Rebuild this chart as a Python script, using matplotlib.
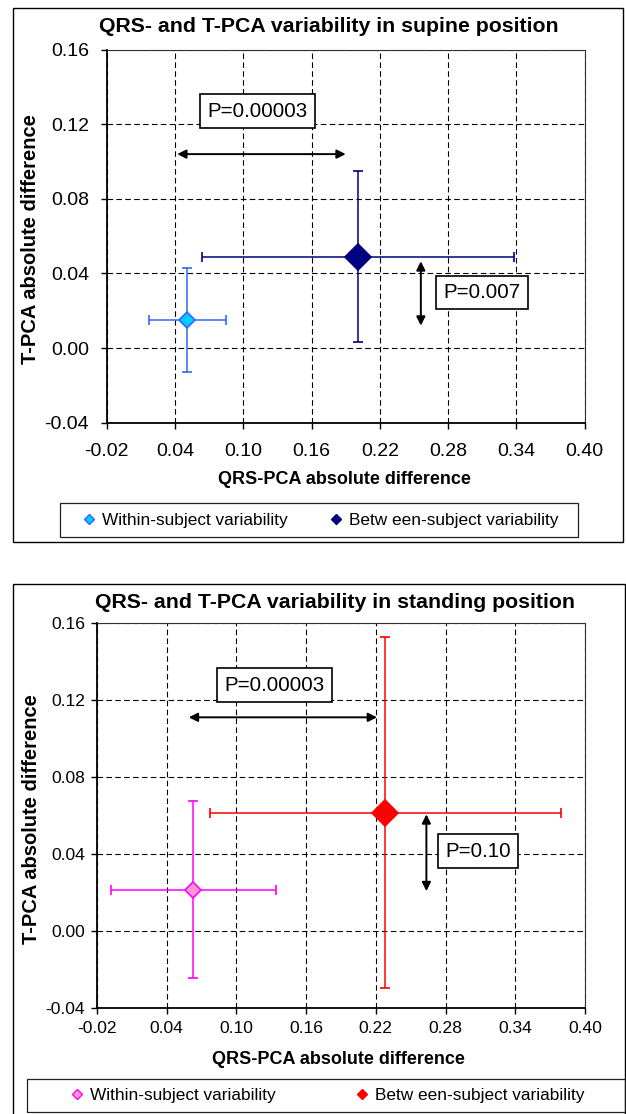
import matplotlib
matplotlib.use('Agg')
import matplotlib.pyplot as plt
from matplotlib.lines import Line2D
from matplotlib.patches import Rectangle

plt.rcParams['font.family'] = ['Liberation Sans', 'DejaVu Sans']

W, H = 626, 1114

x_ticks = [-0.02, 0.04, 0.10, 0.16, 0.22, 0.28, 0.34, 0.40]
y_ticks = [-0.04, 0.00, 0.04, 0.08, 0.12, 0.16]

series_names = ['Within-subject variability', 'Betw een-subject variability']

# supine
supine_title = 'QRS- and T-PCA variability in supine position'
supine_x = [0.051, 0.201]
supine_y = [0.015, 0.049]
supine_xerr = [0.034, 0.137]
supine_yerr = [0.028, 0.046]
supine_h_arrow = (0.042, 0.190, 0.104)     # x0, x1, y
supine_v_arrow = (0.256, 0.0465, 0.012)    # x, y0, y1
supine_p_labels = ['P=0.00003', 'P=0.007']
supine_p_pos = [(0.1125, 0.127), (0.310, 0.0298)]

# standing
standing_title = 'QRS- and T-PCA variability in standing position'
standing_x = [0.063, 0.228]
standing_y = [0.0215, 0.0615]
standing_xerr = [0.071, 0.151]
standing_yerr = [0.046, 0.091]
standing_h_arrow = (0.059, 0.221, 0.111)
standing_v_arrow = (0.2635, 0.0606, 0.0207)
standing_p_labels = ['P=0.00003', 'P=0.10']
standing_p_pos = [(0.133, 0.1276), (0.308, 0.0415)]


def fx(x):
    return x / W


def fy(y):
    return 1 - y / H


def fig_rect(fig, x0, y0, x1, y1, lw=1.0, color='black'):
    fig.patches.append(Rectangle((fx(x0), fy(y1)), fx(x1) - fx(x0), fy(y0) - fy(y1),
                                 transform=fig.transFigure, fill=False,
                                 edgecolor=color, linewidth=lw, zorder=5))


def draw_panel(fig, box, tick_size, xpad, ypad, title, title_xy, xlab_xy, ylab_xy,
               xs, ys, xerr, yerr, styles, h_arrow, v_arrow, p_labels, p_pos,
               legend_box, legend_inner, legend_y):
    left, top, right, bottom = box
    ax = fig.add_axes([fx(left), fy(bottom), fx(right) - fx(left), fy(top) - fy(bottom)])
    ax.set_xlim(x_ticks[0], x_ticks[-1])
    ax.set_ylim(y_ticks[0], y_ticks[-1])
    ax.set_xticks(x_ticks)
    ax.set_yticks(y_ticks)
    ax.set_xticklabels([f'{v:.2f}' for v in x_ticks])
    ax.set_yticklabels([f'{v:.2f}' for v in y_ticks])
    ax.tick_params(axis='x', direction='out', length=4.3, width=1.0, labelsize=tick_size, pad=xpad)
    ax.tick_params(axis='y', direction='out', length=4.3, width=1.0, labelsize=tick_size, pad=ypad)
    ax.grid(True, color='black', linestyle=(0, (5, 3)), linewidth=0.8)
    ax.set_axisbelow(True)
    for s in ['left', 'bottom']:
        ax.spines[s].set_linewidth(1.3)
    for s in ['top', 'right']:
        ax.spines[s].set_linewidth(0.8)
        ax.spines[s].set_color('#303030')

    for i in range(len(xs)):
        st = styles[i]
        ax.errorbar(xs[i], ys[i], xerr=xerr[i], yerr=yerr[i], fmt='D', ms=st['ms'],
                    mfc=st['mfc'], mec=st['mec'], mew=1.2, ecolor=st['ecolor'],
                    elinewidth=1.1, capsize=3.6, capthick=1.1, zorder=3)

    arrow = dict(arrowstyle='<|-|>', color='black', lw=1.4, shrinkA=0, shrinkB=0,
                 mutation_scale=13)
    ax.annotate('', xy=(h_arrow[1], h_arrow[2]), xytext=(h_arrow[0], h_arrow[2]),
                arrowprops=arrow, zorder=4)
    ax.annotate('', xy=(v_arrow[0], v_arrow[2]), xytext=(v_arrow[0], v_arrow[1]),
                arrowprops=arrow, zorder=4)
    for lab, (px, py) in zip(p_labels, p_pos):
        ax.text(px, py, lab, fontsize=14.8, ha='center', va='center', zorder=6,
                bbox=dict(boxstyle='square,pad=0.36', fc='white', ec='black', lw=1.2))

    fig.text(fx(title_xy[0]), fy(title_xy[1]), title, fontsize=15.3, fontweight='bold',
             ha='center', va='center')
    fig.text(fx(xlab_xy[0]), fy(xlab_xy[1]), 'QRS-PCA absolute difference', fontsize=13,
             fontweight='bold', ha='center', va='center')
    fig.text(fx(ylab_xy[0]), fy(ylab_xy[1]), 'T-PCA absolute difference', fontsize=14.5,
             fontweight='bold', ha='center', va='center', rotation=90)

    handles = [Line2D([], [], linestyle='none', marker='D', ms=5.5, mfc=st['mfc'],
                      mec=st['mec'], mew=1.0) for st in styles]
    x0, x1 = legend_inner
    fig.legend(handles, series_names, loc='center', ncol=2, mode='expand',
               bbox_to_anchor=(fx(x0), fy(legend_y + 10), fx(x1) - fx(x0), 20 / H),
               frameon=False, fontsize=12.4, handlelength=0.8, handletextpad=0.35,
               borderpad=0, borderaxespad=0)
    fig_rect(fig, *legend_box, lw=0.9, color='#202020')


fig = plt.figure(figsize=(W / 100, H / 100), dpi=100)

supine_styles = [dict(ms=8, mfc='#00CCFF', mec='#3366FF', ecolor='#3366FF'),
                 dict(ms=13.5, mfc='#000080', mec='#000080', ecolor='#000080')]
standing_styles = [dict(ms=8, mfc='#FF99CC', mec='#FF00FF', ecolor='#FF00FF'),
                   dict(ms=13.2, mfc='#FF0000', mec='#FF0000', ecolor='#FF0000')]

fig_rect(fig, 13, 7.5, 623, 541.5)
draw_panel(fig, (106.6, 49.7, 584.8, 422.6), 14, 10.5, 8.4, supine_title,
           (328.5, 26), (344, 480), (31, 239),
           supine_x, supine_y, supine_xerr, supine_yerr, supine_styles,
           supine_h_arrow, supine_v_arrow, supine_p_labels, supine_p_pos,
           (60, 503, 578, 537), (82, 558), 520)

fig_rect(fig, 13, 584, 625, 1120)
draw_panel(fig, (97, 623, 585, 1008), 12.6, 5.4, 4.4, standing_title,
           (335, 602), (338.5, 1059), (32, 819),
           standing_x, standing_y, standing_xerr, standing_yerr, standing_styles,
           standing_h_arrow, standing_v_arrow, standing_p_labels, standing_p_pos,
           (27, 1079, 625, 1112), (70, 584), 1095)

fig.savefig('out.png', dpi=100)
